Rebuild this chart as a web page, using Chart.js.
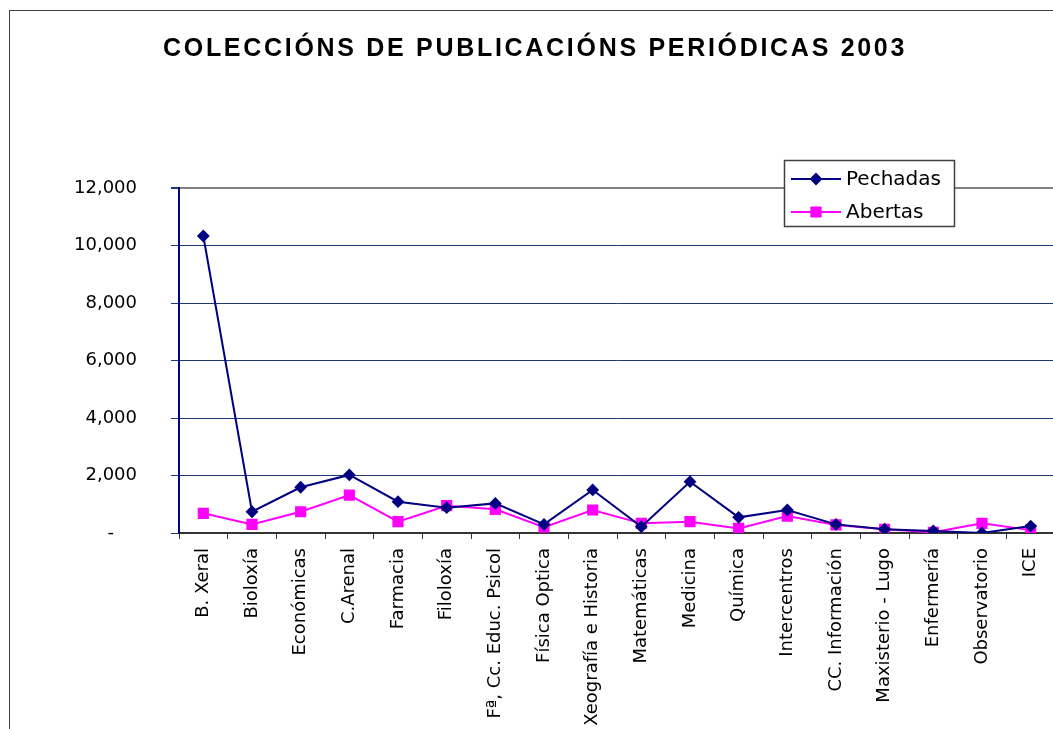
<!DOCTYPE html>
<html>
<head>
<meta charset="utf-8">
<script src="https://cdn.jsdelivr.net/npm/chart.js@4"></script>
<style>
  html, body { margin: 0; padding: 0; background: #fff; overflow: hidden; }
  #wrap { width: 1070px; height: 729px; }
</style>
</head>
<body>
<div id="wrap"><canvas id="periodChart" width="1070" height="729"></canvas></div>
<script>
const chartTitle = 'COLECCIÓNS DE PUBLICACIÓNS PERIÓDICAS 2003';

const centros = ['B. Xeral', 'Bioloxía', 'Económicas', 'C.Arenal', 'Farmacia', 'Filoloxía',
  'Fª, Cc. Educ. Psicol', 'Física Optica', 'Xeografía e Historia', 'Matemáticas', 'Medicina',
  'Química', 'Intercentros', 'CC. Información', 'Maxisterio - Lugo', 'Enfermería',
  'Observatorio', 'ICE'];

// read off the picture, so approximate
const pechadas = [10330, 740, 1590, 2020, 1090, 880, 1030, 300, 1500, 220, 1785, 545, 800, 300, 130, 70, 0, 240];
const abertas = [685, 300, 740, 1320, 395, 950, 825, 200, 800, 335, 395, 160, 590, 280, 130, 25, 335, 100];

const yTicks = [0, 2000, 4000, 6000, 8000, 10000, 12000];

//outer frame + title, drawn behind everything
const framePlugin = {
    id: 'frame',
    beforeDraw(chart) {
        const ctx = chart.ctx;
        ctx.save();
        ctx.fillStyle = '#fff';
        ctx.fillRect(0, 0, chart.width, chart.height);
        ctx.strokeStyle = '#404040';
        ctx.lineWidth = 1;
        ctx.strokeRect(9.5, 10.5, chart.width, chart.height);

        ctx.fillStyle = '#000';
        ctx.font = 'bold 25px "Liberation Sans", Arial, sans-serif';
        ctx.letterSpacing = '2.7px';
        ctx.textAlign = 'left';
        ctx.textBaseline = 'alphabetic';
        ctx.fillText(chartTitle, 163, 56);
        ctx.restore();
    }
};

//little boxed legend that sits over the top border
const boxLegend = {
    id: 'boxLegend',
    afterDraw(chart) {
        const ctx = chart.ctx;
        const bx = 784.5, by = 160.5, bw = 170, bh = 66;
        ctx.save();
        ctx.fillStyle = '#fff';
        ctx.fillRect(bx, by, bw, bh);
        ctx.strokeStyle = '#404040';
        ctx.lineWidth = 1.5;
        ctx.strokeRect(bx, by, bw, bh);

        const rows = [179, 212];
        chart.data.datasets.forEach((ds, i) => {
            const y = rows[i];
            ctx.strokeStyle = ds.borderColor;
            ctx.lineWidth = 2;
            ctx.beginPath();
            ctx.moveTo(791, y);
            ctx.lineTo(841, y);
            ctx.stroke();
            ctx.fillStyle = ds.pointBackgroundColor;
            Chart.helpers.drawPoint(ctx, {
                pointStyle: ds.pointStyle,
                radius: ds.pointRadius,
                rotation: 0,
                borderWidth: 1
            }, 816, y);
            ctx.fillStyle = '#000';
            ctx.font = '20px "DejaVu Sans", Verdana, sans-serif';
            ctx.textAlign = 'left';
            ctx.textBaseline = 'middle';
            ctx.fillText(ds.label, 846, y + 1);
        });
        ctx.restore();
    }
};

const ctx = document.getElementById('periodChart').getContext('2d');

new Chart(ctx, {
    type: 'line',
    data: {
        labels: centros,
        datasets: [
            {
                label: 'Pechadas',
                data: pechadas,
                borderColor: '#000080',
                backgroundColor: '#000080',
                pointBackgroundColor: '#000080',
                pointBorderColor: '#000080',
                pointStyle: 'rectRot',
                pointRadius: 5,
                borderWidth: 2,
                tension: 0
            },
            {
                label: 'Abertas',
                data: abertas,
                borderColor: '#ff00ff',
                backgroundColor: '#ff00ff',
                pointBackgroundColor: '#ff00ff',
                pointBorderColor: '#ff00ff',
                pointStyle: 'rect',
                pointRadius: 6.5,
                borderWidth: 2,
                tension: 0
            }
        ]
    },
    options: {
        responsive: false,
        animation: false,
        layout: {
            padding: { top: 188, right: 15, bottom: 0, left: 0 }
        },
        plugins: {
            legend: { display: false },
            title: { display: false },
            tooltip: { enabled: false }
        },
        scales: {
            x: {
                type: 'category',
                offset: true,
                afterFit: (scale) => { scale.height = 196; },
                border: { color: '#333', width: 2 },
                grid: {
                    offset: true,
                    drawOnChartArea: false,
                    tickLength: 6,
                    color: '#333'
                },
                ticks: {
                    autoSkip: false,
                    minRotation: 90,
                    maxRotation: 90,
                    padding: 9,
                    color: '#000',
                    font: { family: '"DejaVu Sans", Verdana, sans-serif', size: 18 }
                }
            },
            y: {
                min: 0,
                max: 12000,
                afterFit: (scale) => { scale.width = 179; },
                afterBuildTicks: (scale) => { scale.ticks = yTicks.map(v => ({ value: v })); },
                border: { color: '#000080', width: 2 },
                grid: {
                    color: (c) => c.tick && c.tick.value === 12000 ? '#808080' : '#1f3a78',
                    lineWidth: (c) => c.tick && c.tick.value === 12000 ? 2 : 1,
                    tickColor: '#1f3a78',
                    tickLength: 8
                },
                ticks: {
                    padding: 34,
                    color: '#000',
                    font: { family: '"DejaVu Sans", Verdana, sans-serif', size: 18 },
                    callback: (v) => v === 0 ? '-\u2007\u2007' : v.toLocaleString('en-US')
                }
            }
        }
    },
    plugins: [framePlugin, boxLegend]
});
</script>
</body>
</html>
